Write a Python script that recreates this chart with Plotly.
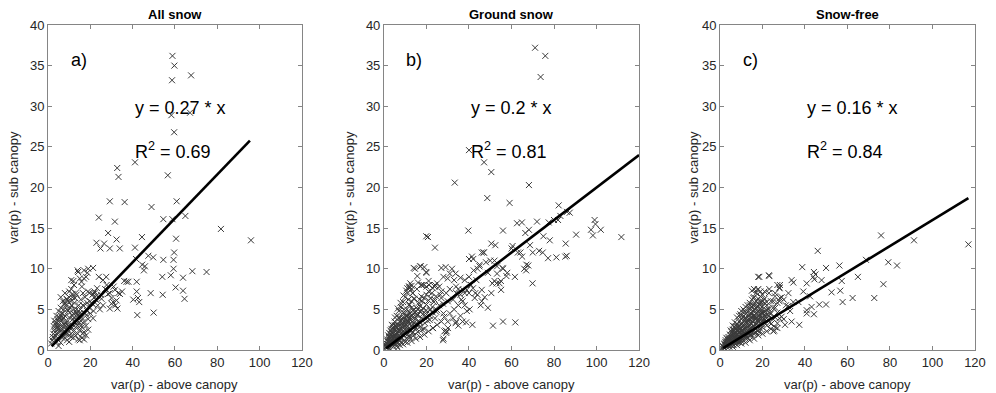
import plotly.graph_objects as go

# ---------------- data ----------------
titles = ["All snow", "Ground snow", "Snow-free"]
panel_tags = ["a)", "b)", "c)"]
slopes = [0.27, 0.2, 0.16]
slope_labels = ["0.27", "0.2", "0.16"]
r2_labels = ["0.69", "0.81", "0.84"]
x_title = "var(p) - above canopy"
y_title = "var(p) - sub canopy"
line_x_a = [1.7, 95.4]
line_x_b = [1.0, 120.0]
line_x_c = [1.5, 116.9]

a_x = [58.8, 59.7, 58.6, 67.6, 58.3, 67.1, 59.6, 41.1, 32.7, 33.3, 56.6, 29.2, 36.2, 48.9, 60.8,
       24.0, 54.5, 58.8, 64.9, 81.7, 95.9, 31.6, 28.4, 44.4, 60.5, 32.4, 22.9, 26.5, 24.8, 29.2,
       33.9, 41.1, 54.5, 59.3, 59.6, 49.7, 47.4, 41.6, 44.5, 45.8, 45.3, 68.2, 74.9, 58.0, 59.3,
       63.8, 54.0, 37.1, 41.9, 41.9, 42.5, 48.5, 54.2, 60.3, 63.8, 64.5, 42.2, 49.9, 43.1, 40.3,
       31.0, 33.2, 29.2, 30.8, 31.8, 32.8, 29.2,
       14.2, 18.6, 21.3, 11.0, 15.8, 12.3, 26.0, 27.7, 23.2, 21.3, 18.9, 25.3, 28.4, 30.0, 31.6,
       34.0, 32.4, 21.3, 24.5, 30.0, 18.2, 21.3, 16.6, 22.0, 20.0, 26.0, 27.0, 35.0, 36.0, 38.0,
       27.5, 24.0, 17.0, 25.0, 22.0, 23.0,
       1.5, 2.0, 3.0, 4.0, 5.0, 5.0, 6.0, 7.0, 8.0, 9.0, 10.0, 11.0, 12.0, 13.0, 14.0,
       15.0, 16.0, 17.0, 3.0, 4.0, 5.0, 6.0, 7.0, 8.0, 9.0, 10.0, 11.0, 12.0, 13.0, 14.0,
       15.0, 16.0, 17.0, 18.0, 19.0, 20.0, 3.5, 4.5, 5.5, 6.5, 7.5, 8.5, 9.5, 10.5, 11.5,
       12.5, 13.5, 14.5, 15.5, 16.5, 17.5, 18.5, 19.5, 6.0, 7.0, 8.0, 9.0, 10.0, 11.0, 12.0,
       13.0, 14.0, 15.0, 16.0, 17.0, 18.0, 19.0, 21.0, 22.0, 4.0, 6.0, 8.0, 9.0, 10.0, 11.0,
       12.0, 13.0, 14.0, 15.0, 16.0, 17.0, 18.0, 19.0, 2.5, 3.5, 4.5, 5.5, 6.5, 7.5, 8.5,
       9.5, 10.5, 11.5, 12.5, 13.5, 14.5, 15.5, 16.5, 17.5, 18.5, 19.5, 20.5, 21.5, 22.5, 23.5,
       6.0, 5.0, 4.0, 3.0, 7.0, 8.0, 9.0, 10.0, 11.0]
a_y = [36.2, 35.0, 33.2, 33.8, 28.9, 29.2, 26.8, 23.1, 22.4, 21.3, 21.5, 18.3, 18.2, 17.6, 18.3,
       16.3, 16.1, 16.1, 16.5, 14.9, 13.5, 15.8, 14.4, 13.9, 13.7, 13.6, 13.2, 13.1, 12.5, 12.5,
       12.5, 12.6, 11.1, 11.1, 12.0, 11.4, 11.6, 11.2, 10.5, 10.3, 9.8, 9.7, 9.6, 9.2, 10.0,
       8.9, 9.0, 8.4, 8.4, 7.2, 6.4, 7.0, 6.8, 7.7, 7.3, 6.3, 4.3, 4.6, 5.9, 6.2,
       7.8, 7.0, 7.0, 5.9, 5.5, 5.1, 5.1,
       9.6, 9.5, 10.1, 8.6, 8.4, 8.0, 8.6, 8.0, 7.6, 6.9, 7.2, 6.3, 6.9, 6.4, 7.4,
       6.9, 6.1, 5.6, 5.0, 5.7, 4.3, 3.9, 5.5, 6.5, 6.0, 5.5, 7.5, 7.2, 8.5, 8.4,
       9.0, 9.0, 8.8, 6.8, 7.0, 6.7,
       0.8, 1.2, 1.5, 2.0, 2.5, 0.5, 1.8, 2.2, 3.0, 2.5, 1.8, 2.0, 1.5, 1.8, 2.0,
       1.2, 1.5, 1.3, 2.5, 3.0, 3.5, 3.0, 3.8, 4.2, 3.5, 4.0, 3.2, 4.5, 3.8, 4.2,
       4.5, 4.0, 3.5, 3.0, 3.8, 4.5, 3.2, 3.8, 4.0, 4.5, 5.0, 5.5, 6.0, 5.2, 6.5,
       5.8, 6.8, 5.5, 6.2, 7.0, 6.5, 5.8, 7.0, 6.5, 6.0, 7.0, 6.2, 7.2, 7.5, 8.5,
       7.0, 9.8, 8.8, 7.8, 9.8, 9.0, 10.0, 6.8, 7.2, 1.0, 0.9, 1.5, 1.2, 1.0, 1.6,
       2.3, 2.8, 3.0, 2.5, 2.8, 2.2, 1.8, 2.5, 2.0, 1.8, 2.8, 2.2, 2.6, 3.2, 2.0,
       4.8, 3.0, 4.2, 3.5, 5.0, 4.8, 3.6, 5.5, 4.5, 4.8, 5.2, 5.8, 4.8, 6.2, 5.5,
       5.2, 4.8, 4.2, 3.6, 4.5, 5.8, 5.0, 6.5, 5.5]
a_x2 = [2.3, 2.8, 3.3, 3.8, 4.3, 4.8, 5.3, 5.8, 6.3, 6.8, 7.3, 7.8, 8.3, 8.8, 9.3, 9.8, 10.3,
        10.8, 11.3, 11.8, 12.3, 12.8, 13.3, 13.8, 14.3, 14.8, 15.3, 16.3,
        5.6, 7.6, 9.6, 11.6, 13.6, 15.6]
a_y2 = [1.6, 2.9, 2.2, 3.4, 1.4, 3.0, 2.6, 4.3, 3.6, 1.5, 4.0, 2.7, 3.3, 6.3, 2.0, 3.0, 4.6,
        6.0, 2.7, 3.8, 5.0, 6.4, 3.2, 4.4, 1.3, 3.4, 5.0, 2.0,
        3.9, 5.6, 2.9, 6.9, 4.6, 3.0]

b_x = [71.1, 75.9, 73.7, 40.0, 47.1, 50.5, 33.3, 68.2, 48.6, 59.1, 82.2, 86.1, 87.4, 19.9, 20.7,
       39.7, 56.0, 62.6, 64.9, 68.2, 66.5, 72.0, 77.5, 81.9, 99.1, 99.5, 97.4, 102.0, 98.3, 90.4,
       111.7, 50.5, 52.4, 60.5, 64.2, 68.7, 74.7, 85.5, 77.2, 81.1, 85.3, 24.0, 46.9, 41.4, 40.0,
       14.6, 17.3, 19.9, 15.7, 27.0, 33.7, 67.9, 66.9, 69.9, 61.6, 53.2, 55.8, 57.6, 53.2, 48.9,
       51.0, 54.4, 55.1, 50.5, 48.9, 51.3, 56.0, 61.8, 38.7, 41.6, 40.3, 45.5, 42.7, 47.4, 46.0,
       41.9, 43.5, 42.2, 44.9, 38.0, 37.2, 33.9, 36.4, 32.5, 29.3, 27.0, 23.8, 27.8, 24.6, 28.4,
       32.5, 33.7, 30.1, 28.4, 29.3, 27.8, 23.1, 21.5, 19.9, 16.8, 13.6, 11.8, 12.4, 18.7, 21.2,
       23.8, 14.0,
       1.0, 1.2, 1.5, 1.8, 2.0, 2.2, 2.5, 2.8, 3.0, 3.2, 3.5, 3.8, 4.0, 4.2, 4.5,
       4.8, 5.0, 5.2, 5.5, 5.8, 6.0, 6.2, 6.5, 6.8, 7.0, 7.2, 7.5, 7.8, 8.0, 8.2,
       8.5, 8.8, 9.0, 9.2, 9.5, 9.8, 10.0, 10.2, 10.5, 10.8, 11.0, 11.2, 11.5, 11.8, 12.0,
       12.3, 12.6, 13.0, 13.3, 13.6, 14.0, 14.4, 14.8, 15.2, 15.6, 16.0, 16.4, 16.8, 17.2, 17.6,
       18.0, 18.5, 19.0, 19.5, 20.0, 20.5, 21.0, 21.5, 22.0, 22.5, 23.0, 23.5, 24.0, 24.5, 25.0,
       26.0, 27.0, 28.0, 26.5, 3.0, 4.0, 5.0, 6.0, 7.0, 8.0, 9.0, 10.0, 11.0, 12.0, 13.0,
       6.0, 8.0, 10.0, 12.0, 14.0, 16.0, 18.0, 2.0, 3.5, 5.5, 7.5, 9.5, 11.5, 13.5, 15.5,
       17.5, 20.0, 21.0, 19.0, 20.0, 17.0, 14.0, 12.0, 13.0, 11.0, 16.0, 18.0, 2.5, 4.5, 6.5,
       7.5, 9.0, 11.0, 13.0, 15.0, 17.0, 19.0, 21.0, 23.0, 25.0, 27.0, 29.0, 29.5, 28.0, 1.5,
       2.5, 3.8, 5.2, 6.5, 7.8, 9.2, 10.5, 12.0, 13.0, 14.0, 15.0, 16.0, 17.0, 18.0, 19.0,
       20.0, 21.0, 22.0, 23.0, 24.0, 25.0, 26.0, 28.0, 30.0, 31.0, 29.0, 32.0,
       35.0, 36.0, 38.0, 39.0, 36.0, 38.0, 39.0, 43.0, 44.0, 45.0, 42.0, 46.0, 47.0, 48.0, 50.0,
       52.0, 52.0, 53.0, 55.0, 56.0, 58.0, 60.0, 63.0, 65.0, 66.0, 67.0, 70.0, 73.0, 75.0, 78.0,
       80.0, 83.0, 86.0, 44.0, 46.0, 34.0, 35.0, 37.0, 31.0, 33.0, 35.0, 37.0, 34.0, 30.0, 31.0,
       33.0, 36.0, 40.0, 41.0, 40.0, 30.0]
b_y = [37.2, 36.2, 33.6, 24.6, 23.1, 21.9, 20.6, 20.3, 18.7, 18.1, 17.8, 17.0, 16.9, 14.0, 13.9,
       14.7, 14.7, 15.6, 15.7, 14.8, 14.4, 15.8, 15.7, 16.0, 16.0, 15.5, 14.8, 14.8, 14.1, 14.2,
       13.9, 13.1, 12.9, 12.8, 12.0, 12.9, 12.0, 13.1, 11.3, 11.4, 11.5, 12.6, 12.0, 11.5, 11.2,
       10.0, 10.3, 9.6, 9.1, 10.1, 9.4, 10.4, 9.8, 8.2, 9.0, 10.3, 10.1, 9.1, 9.4, 9.5,
       8.2, 8.2, 7.4, 7.0, 5.2, 3.0, 3.5, 3.4, 3.4, 3.1, 5.0, 5.5, 6.4, 6.5, 7.4,
       7.6, 8.6, 9.8, 10.3, 8.6, 7.4, 7.8, 6.2, 6.2, 7.0, 6.4, 6.2, 5.7, 4.7, 4.1,
       3.9, 3.3, 2.7, 2.3, 2.1, 1.2, 2.7, 3.7, 4.9, 6.2, 7.0, 7.8, 8.2, 8.0, 8.0,
       7.8, 6.3,
       0.3, 0.8, 0.5, 1.0, 0.4, 0.9, 1.3, 0.6, 1.0, 1.6, 0.7, 1.2, 2.0, 0.9, 1.5,
       2.4, 1.1, 1.8, 0.8, 2.8, 1.4, 2.1, 1.0, 3.2, 1.7, 2.5, 1.2, 3.6, 2.0, 2.9,
       1.5, 4.0, 2.3, 3.3, 1.8, 4.5, 2.6, 3.7, 1.4, 5.0, 2.9, 4.1, 2.0, 5.5, 3.2,
       4.5, 2.4, 6.0, 3.5, 4.9, 2.8, 6.3, 3.8, 5.2, 3.0, 4.3, 5.8, 3.4, 4.7, 6.6,
       3.9, 5.1, 2.6, 4.5, 5.6, 3.6, 6.1, 4.2, 5.0, 7.0, 4.6, 5.9, 3.9, 6.6, 4.9,
       5.5, 7.2, 4.5, 6.8, 2.4, 3.0, 3.5, 4.2, 4.8, 5.3, 5.9, 6.5, 7.0, 7.6, 7.9,
       0.5, 0.9, 1.0, 1.5, 1.8, 2.2, 2.5, 1.8, 2.6, 3.0, 4.0, 5.0, 6.2, 7.0, 7.5,
       8.0, 7.8, 8.5, 10.2, 9.5, 10.3, 10.1, 7.8, 7.5, 7.6, 8.3, 8.0, 0.2, 0.4, 0.3,
       0.6, 0.7, 0.9, 1.1, 1.4, 1.6, 1.9, 2.3, 2.7, 3.1, 3.5, 2.4, 2.3, 1.4, 1.3,
       2.1, 3.1, 4.0, 5.1, 5.8, 6.7, 7.3, 5.6, 5.2, 4.4, 4.8, 5.0, 5.4, 6.0, 6.4,
       6.8, 7.2, 6.4, 7.6, 8.0, 8.2, 7.8, 9.0, 8.8, 9.4, 10.2, 10.0,
       7.5, 6.8, 7.0, 7.4, 4.2, 5.5, 4.8, 7.0, 10.0, 10.5, 11.2, 12.0, 12.0, 10.8, 11.0,
       11.0, 8.5, 8.2, 8.5, 10.0, 9.5, 12.5, 12.0, 11.5, 10.0, 10.5, 12.0, 12.2, 14.0, 13.5,
       16.0, 16.5, 11.6, 6.8, 6.0, 3.5, 3.0, 3.5, 4.5, 5.0, 5.5, 6.0, 7.0, 6.0, 7.5,
       8.6, 8.9, 9.0, 8.0, 7.0, 3.5]
b_x2 = [0.8, 1.3, 1.7, 2.1, 2.6, 2.9, 3.3, 3.6, 3.9, 4.3, 4.6, 4.9, 5.3, 5.6, 5.9, 6.3, 6.6,
        6.9, 7.3, 7.6, 7.9, 8.3, 8.6, 8.9, 9.3, 9.6, 9.9, 10.3, 10.6, 10.9, 11.3, 11.6, 11.9,
        12.4, 12.8, 13.2, 13.7, 14.1, 14.6, 15.1,
        1.1, 1.9, 2.4, 3.1, 3.7, 4.4, 5.1, 5.7, 6.4, 7.1, 7.7, 8.4, 9.1, 9.7, 10.4, 11.1, 11.7,
        12.5, 13.4, 14.3, 15.4, 16.3, 17.1, 18.2, 19.3, 20.4, 21.6, 22.8,
        3.4, 5.4, 7.4, 9.4, 11.4, 13.4, 15.4, 17.4]
b_y2 = [0.6, 0.4, 1.1, 0.7, 0.9, 1.5, 1.2, 2.2, 0.8, 1.7, 2.6, 1.3, 2.0, 1.0, 2.4, 1.6, 3.0,
        1.3, 2.2, 3.4, 1.6, 2.6, 3.8, 1.9, 2.9, 2.1, 3.5, 2.4, 3.1, 4.2, 2.6, 3.4, 1.7,
        3.7, 2.9, 4.3, 2.2, 3.3, 4.6, 2.7,
        0.5, 0.6, 1.6, 1.9, 1.0, 2.7, 3.0, 1.9, 2.8, 3.9, 1.4, 3.3, 4.6, 2.5, 4.2, 3.6, 4.7,
        4.0, 2.1, 3.0, 3.2, 3.6, 2.9, 4.4, 3.3, 4.0, 4.9, 5.3,
        0.9, 1.6, 2.4, 3.0, 3.6, 4.0, 4.3, 4.9]

c_x = [75.8, 91.3, 116.9, 46.0, 79.2, 83.3, 68.7, 76.9, 72.6, 64.9, 56.2, 49.9, 57.3, 56.6, 52.5,
       57.7, 62.4, 49.9, 46.7, 44.2, 43.1, 40.8, 40.8, 37.3, 38.7, 44.2, 44.9, 43.9, 44.4, 40.8,
       39.2, 47.8, 42.4, 36.9, 34.5, 33.7, 34.5, 32.2, 28.2, 28.0, 23.2, 18.5, 23.2, 17.6, 25.9,
       28.2, 33.7, 30.6, 27.0, 25.1, 21.2, 23.5, 19.6, 15.7, 14.1,
       1.0, 1.5, 2.0, 2.0, 2.5, 2.5, 3.0, 3.0, 3.5, 3.5, 4.0, 4.0, 4.0, 4.5, 4.5,
       5.0, 5.0, 5.0, 5.5, 5.5, 5.5, 6.0, 6.0, 6.0, 6.5, 6.5, 6.5, 7.0, 7.0, 7.0,
       7.0, 7.5, 7.5, 7.5, 8.0, 8.0, 8.0, 8.0, 8.5, 8.5, 8.5, 9.0, 9.0, 9.0, 9.0,
       9.5, 9.5, 9.5, 10.0, 10.0, 10.0, 10.0, 10.5, 10.5, 10.5, 11.0, 11.0, 11.0, 11.0, 11.5,
       11.5, 11.5, 12.0, 12.0, 12.0, 12.0, 12.5, 12.5, 12.5, 13.0, 13.0, 13.0, 13.0, 13.5, 13.5,
       13.5, 14.0, 14.0, 14.0, 14.0, 14.5, 14.5, 14.5, 15.0, 15.0, 15.0, 15.0, 15.5, 15.5, 15.5,
       16.0, 16.0, 16.0, 16.0, 16.5, 16.5, 16.5, 17.0, 17.0, 17.0, 17.0, 17.5, 17.5, 17.5, 18.0,
       18.0, 18.0, 18.0, 18.5, 18.5, 18.5, 19.0, 19.0, 19.0, 19.0, 19.5, 19.5, 20.0, 20.0, 20.0,
       20.0, 21.0, 21.0, 21.0, 22.0, 22.0, 22.0, 23.0, 23.0, 24.0, 24.0, 25.0, 25.0, 26.0, 27.0,
       28.0, 3.0, 5.0, 7.0, 9.0, 11.0, 13.0, 15.0, 17.0, 18.0, 19.0, 20.0, 21.0, 22.0, 10.0,
       12.0, 14.0, 16.0, 15.0, 16.0, 18.0, 23.0, 19.0, 21.0, 23.0, 24.0, 6.0, 8.0, 10.0, 12.0,
       14.0, 16.0, 18.0, 20.0, 22.0, 24.0, 26.0, 25.5, 6.0, 8.0, 10.0, 12.0, 14.0, 16.0, 17.0,
       19.0, 20.0, 22.0, 23.0, 25.0, 26.0, 27.0, 28.0, 27.0, 29.0, 30.0, 31.0, 29.0, 26.0, 27.0,
       28.0, 30.0, 32.0, 33.0]
c_y = [14.1, 13.5, 13.0, 12.2, 10.8, 10.4, 11.1, 8.1, 6.4, 9.0, 10.4, 10.1, 8.5, 7.3, 7.1,
       5.9, 6.4, 5.6, 5.6, 4.4, 5.3, 4.9, 4.5, 3.1, 10.2, 9.6, 9.3, 9.0, 8.7, 8.2,
       7.2, 8.6, 6.6, 5.9, 5.9, 8.6, 8.3, 7.0, 8.0, 7.6, 9.1, 9.0, 7.5, 7.4, 6.6,
       6.4, 3.5, 3.1, 2.7, 2.3, 3.7, 4.5, 4.9, 6.4, 5.5,
       0.2, 0.4, 0.3, 0.7, 0.5, 1.0, 0.4, 0.9, 0.6, 1.3, 0.5, 1.0, 1.6, 0.8, 1.3,
       0.6, 1.1, 1.8, 0.9, 1.5, 2.2, 0.7, 1.2, 1.9, 1.0, 1.6, 2.5, 0.8, 1.4, 2.1,
       2.9, 1.1, 1.8, 2.6, 0.9, 1.5, 2.3, 3.2, 1.2, 2.0, 2.8, 1.0, 1.7, 2.5, 3.5,
       1.3, 2.2, 3.0, 1.1, 1.9, 2.7, 3.8, 1.5, 2.4, 3.3, 1.2, 2.0, 2.9, 4.1, 1.6,
       2.6, 3.6, 1.4, 2.2, 3.1, 4.4, 1.8, 2.8, 3.9, 1.5, 2.4, 3.4, 4.7, 2.0, 3.0,
       4.2, 1.7, 2.6, 3.7, 5.0, 2.2, 3.3, 4.5, 1.9, 2.8, 4.0, 5.3, 2.4, 3.5, 4.8,
       2.0, 3.0, 4.3, 5.6, 2.6, 3.8, 5.0, 2.2, 3.2, 4.5, 6.0, 2.8, 4.0, 5.3, 2.4,
       3.5, 4.8, 6.3, 3.0, 4.3, 5.6, 2.6, 3.7, 5.1, 6.6, 3.2, 4.6, 2.8, 4.0, 5.4,
       6.0, 3.4, 4.8, 5.8, 3.0, 4.3, 5.5, 3.6, 5.0, 3.2, 4.5, 3.8, 5.2, 4.0, 4.6,
       3.9, 1.5, 2.4, 3.4, 4.2, 5.0, 5.5, 6.2, 7.0, 7.5, 7.2, 6.8, 6.3, 5.9, 4.8,
       5.3, 5.8, 6.5, 7.3, 7.5, 9.0, 9.2, 6.0, 7.2, 7.0, 6.0, 0.4, 0.6, 0.8, 0.9,
       1.2, 1.4, 1.8, 2.0, 2.3, 2.6, 2.8, 2.4, 3.0, 4.0, 4.2, 4.0, 4.3, 4.9, 5.6,
       5.8, 4.6, 4.9, 4.2, 6.0, 5.2, 5.8, 6.0, 3.3, 4.1, 3.8, 5.5, 6.5, 7.0, 8.0,
       7.7, 6.2, 5.4, 4.8]
c_x2 = [1.3, 1.8, 2.3, 2.7, 3.2, 3.7, 4.2, 4.7, 5.2, 5.7, 6.2, 6.7, 7.2, 7.7, 8.2, 8.7, 9.2,
        9.7, 10.2, 10.7, 11.2, 11.7, 12.2, 12.7, 13.2, 13.7, 14.2, 14.7, 15.2, 15.7, 16.2,
        16.7, 17.2, 17.7, 18.2, 18.7, 19.2, 19.7, 20.3, 21.4,
        2.9, 3.9, 4.9, 5.9, 6.9, 7.9, 8.9, 9.9, 10.9, 11.9, 12.9, 13.9, 14.9, 15.9, 16.9, 17.9,
        18.9, 19.9, 20.8, 22.5,
        4.4, 6.4, 8.4, 10.4, 12.4, 14.4, 16.4, 18.4, 9.6, 11.6, 13.6, 15.6]
c_y2 = [0.5, 0.3, 0.8, 1.2, 0.7, 1.0, 1.4, 1.9, 1.2, 0.8, 1.7, 2.1, 1.5, 2.4, 1.9, 1.3, 2.7,
        2.0, 2.4, 3.0, 1.8, 2.8, 3.4, 2.2, 2.9, 3.8, 2.4, 3.2, 4.4, 2.9, 3.6,
        4.1, 3.1, 4.7, 2.9, 4.0, 3.4, 4.4, 3.7, 4.2,
        0.6, 1.2, 1.5, 2.5, 1.9, 2.9, 2.2, 3.2, 2.2, 3.8, 3.7, 3.1, 3.6, 4.1, 5.2, 3.7,
        5.5, 3.5, 4.3, 5.1,
        0.4, 0.6, 1.0, 1.3, 1.6, 1.9, 2.1, 2.2, 4.4, 4.7, 5.1, 5.5]

# ---------------- figure ----------------
FONT = "Liberation Sans, Arial, sans-serif"
TXT = "#262626"
AX = "#858585"

x_domains = [[0.0482, 0.3032], [0.3855, 0.6416], [0.7229, 0.9789]]
y_domain = [0.1094, 0.9364]
ytitle_x = [0.0131, 0.3514, 0.6958]

fig = go.Figure()
datasets = [(a_x + a_x2, a_y + a_y2, line_x_a),
            (b_x + b_x2, b_y + b_y2, line_x_b),
            (c_x + c_x2, c_y + c_y2, line_x_c)]

for i, (xs, ys, lx) in enumerate(datasets):
    sfx = "" if i == 0 else str(i + 1)
    xr = "x" + sfx
    yr = "y" + sfx
    fig.add_trace(go.Scatter(
        x=xs, y=ys, mode="markers", xaxis=xr, yaxis=yr,
        marker=dict(symbol="x-thin", size=6, line=dict(width=1, color="#3a3a3a")),
        showlegend=False, hoverinfo="skip"))
    fig.add_trace(go.Scatter(
        x=lx, y=[slopes[i] * v for v in lx], mode="lines", xaxis=xr, yaxis=yr,
        line=dict(color="black", width=2.6), showlegend=False, hoverinfo="skip"))

    axis_common = dict(showgrid=False, zeroline=False, showline=True, linecolor=AX,
                       linewidth=1, mirror="ticks", ticks="inside", ticklen=4,
                       tickcolor=AX, automargin=False,
                       tickfont=dict(family=FONT, size=13, color=TXT))
    fig.update_layout(**{
        "xaxis" + sfx: dict(domain=x_domains[i], range=[0, 120], dtick=20, tick0=0,
                            anchor=yr, **axis_common),
        "yaxis" + sfx: dict(domain=y_domain, range=[0, 40], dtick=5, tick0=0,
                            anchor=xr, **axis_common),
    })
    cx = (x_domains[i][0] + x_domains[i][1]) / 2
    fig.add_annotation(x=cx, y=0.0204, xref="paper", yref="paper", text=x_title,
                       showarrow=False, xanchor="center", yanchor="middle",
                       font=dict(family=FONT, size=13, color=TXT))
    fig.add_annotation(x=ytitle_x[i], y=(y_domain[0] + y_domain[1]) / 2, xref="paper",
                       yref="paper", text=y_title, textangle=-90, showarrow=False,
                       xanchor="center", yanchor="middle",
                       font=dict(family=FONT, size=13, color=TXT))
    fig.add_annotation(x=10 if i != 1 else 9.3, y=35.7, xref=xr, yref=yr, text=panel_tags[i],
                       showarrow=False, xanchor="left", yanchor="middle",
                       font=dict(family=FONT, size=18, color="black"))
    fig.add_annotation(x=40, y=29.8, xref=xr, yref=yr, text="y = " + slope_labels[i] + " * x",
                       showarrow=False, xanchor="left", yanchor="middle",
                       font=dict(family=FONT, size=18, color="black"))
    fig.add_annotation(x=40, y=24.6, xref=xr, yref=yr,
                       text="R<sup>2</sup> = " + r2_labels[i],
                       showarrow=False, xanchor="left", yanchor="middle",
                       font=dict(family=FONT, size=18, color="black"))
    fig.add_annotation(x=cx, y=0.962, xref="paper", yref="paper",
                       text="<b>" + titles[i] + "</b>",
                       showarrow=False, xanchor="center", yanchor="middle",
                       font=dict(family=FONT, size=13, color="black"))

fig.update_layout(width=996, height=393, margin=dict(l=0, r=0, t=0, b=0),
                  paper_bgcolor="white", plot_bgcolor="white")

fig.write_html("out.html")
